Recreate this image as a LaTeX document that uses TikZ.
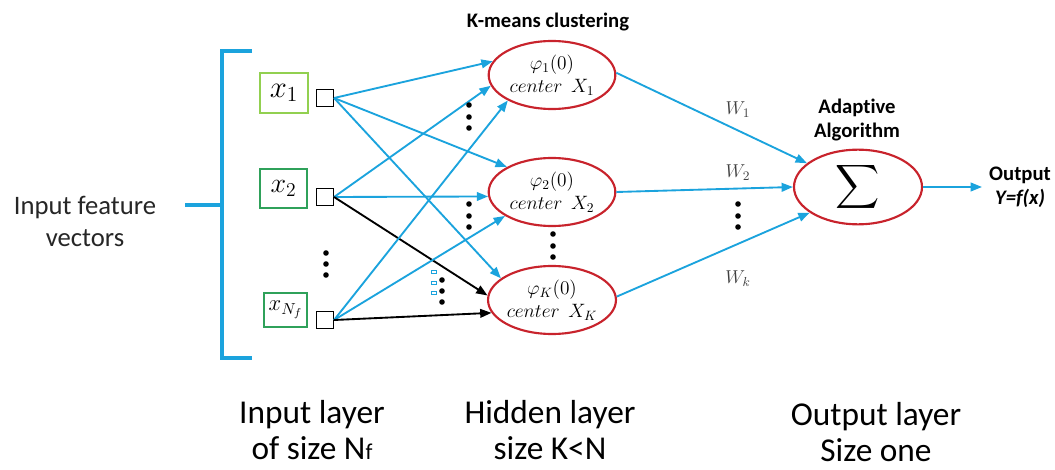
\RequirePackage{fix-cm}
\documentclass[tikz,border=0pt]{standalone}
\usepackage{graphicx}
\usepackage{fontspec}
\setmainfont{Carlito}[Ligatures=NoCommon]
\usetikzlibrary{arrows.meta,shapes.geometric}
\definecolor{lblue}{HTML}{1BA3DD}
\definecolor{ered}{HTML}{C8232C}
\definecolor{lgreen}{HTML}{92D050}
\definecolor{dgreen}{HTML}{2FA15A}
\definecolor{wgray}{HTML}{404040}
\begin{document}
\begin{tikzpicture}[x=0.75pt,y=-0.75pt,
  bluearrow/.style={lblue, line width=1.4pt, -{Triangle[length=8.5pt,width=6.5pt]}},
  blackarrow/.style={black, line width=1.4pt, -{Triangle[length=8.5pt,width=6.5pt]}},
  hid/.style={ellipse, draw=ered, line width=1.6pt, minimum width=95pt, minimum height=51pt, inner sep=0pt, align=center, font=\fontsize{14.5}{17}\selectfont},
  inbox/.style={draw, line width=1.4pt, inner sep=0pt},
  sq/.style={draw=black, line width=1.1pt, minimum size=12.5pt, inner sep=0pt},
  dot/.style={circle, fill=black, inner sep=0pt, minimum size=4.2pt},
  tinybox/.style={draw=lblue, line width=0.8pt, minimum width=3.5pt, minimum height=2.5pt, inner sep=0pt},
  bigtxt/.style={align=center, font=\fontsize{25}{27.5}\selectfont},
  boldtxt/.style={align=center, inner sep=0pt, font=\fontsize{15.5}{18.5}\selectfont\bfseries},
  wlab/.style={text=wgray, font=\fontsize{14}{14}\selectfont}
]
\path[use as bounding box] (0,0) rectangle (1055,470);

% bracket
\coordinate (bt) at (252,51);
\coordinate (btc) at (222,51);
\coordinate (bbc) at (222,358);
\coordinate (bb) at (252,358);
\coordinate (bm) at (222,205);
\coordinate (bl) at (185,205);
\draw[lblue, line width=3pt] (bt) -- (btc) -- (bbc) -- (bb);
\draw[lblue, line width=3pt] (bm) -- (bl);
\node[align=center, text=black!85, font=\fontsize{20}{24}\selectfont] (ifv) at (85,221) {Input feature\\vectors};

% input boxes
\node[inbox, draw=lgreen, minimum width=36pt, minimum height=30pt] (b1) at (284,93) {\fontsize{23}{23}\selectfont$x_1$};
\node[inbox, draw=dgreen, minimum width=35pt, minimum height=29pt] (b2) at (283.5,188.5) {\fontsize{21}{21}\selectfont$x_2$};
\node[inbox, draw=dgreen, minimum width=32pt, minimum height=25.5pt] (bn) at (285.5,310) {\fontsize{17}{17}\selectfont$x_{N_f}$};

% input squares
\node[sq] (s1) at (325,98) {};
\node[sq] (s2) at (325,197) {};
\node[sq] (sn) at (325,320) {};

% hidden ellipses
\node[hid] (e1) at (552,75) {$\varphi_1(0)$\\$center\ \ X_1$};
\node[hid] (e2) at (552,192) {$\varphi_2(0)$\\$center\ \ X_2$};
\node[hid] (e3) at (552,300) {$\varphi_K(0)$\\$center\ \ X_K$};

% output ellipse
\node[ellipse, draw=ered, line width=1.6pt, minimum width=96pt, minimum height=56pt, inner sep=0pt] (sg) at (858,187) {\scalebox{2.3}{$\displaystyle\sum$}};

% titles
\node[boldtxt] (km) at (548,22) {K-means clustering};
\node[boldtxt] (aa) at (857,120) {Adaptive\\Algorithm};
\node[boldtxt] (out) at (1020,175) {Output};
\node[font=\fontsize{15.5}{19}\selectfont\bfseries\itshape, inner sep=0pt] (yfx) at (1020,198) {Y=f(x)};
\coordinate (oend) at (982,187);

% input -> hidden connectors
\draw[bluearrow] (s1.east) -- (e1.167);
\draw[bluearrow] (s1.east) -- (e2.151);
\draw[bluearrow] (s1.east) -- (e3.157);
\draw[bluearrow] (s2.east) -- (e1.190);
\draw[bluearrow] (s2.east) -- (e2.184);
\draw[blackarrow] (s2.east) -- (e3.176);
\draw[bluearrow] (sn.east) -- (e1.210);
\draw[bluearrow] (sn.east) -- (e2.207);
\draw[blackarrow] (sn.east) -- (e3.192);

% hidden -> output
\draw[bluearrow] (e1.2) -- (sg.155);
\draw[bluearrow] (e2.east) -- (sg.west);
\draw[bluearrow] (e3.3) -- (sg.208);
\draw[bluearrow] (sg.east) -- (oend);

% weights
\node[wlab] (w1) at (738,110) {$W_1$};
\node[wlab] (w2) at (738,173) {$W_2$};
\node[wlab] (wk) at (738,279) {$W_k$};

% dots
\foreach \i/\y in {1/253,2/264,3/275} \node[dot] (di\i) at (326,\y) {};
\foreach \i/\y in {1/105,2/117,3/128} \node[dot] (dha\i) at (469,\y) {};
\foreach \i/\y in {1/204,2/216,3/227} \node[dot] (dhb\i) at (469,\y) {};
\foreach \i/\y in {1/280,2/291,3/302} \node[dot] (dhc\i) at (442,\y) {};
\foreach \i/\y in {1/234,2/246,3/257} \node[dot] (dhd\i) at (553,\y) {};
\foreach \i/\y in {1/204,2/216,3/227} \node[dot] (dw\i) at (738,\y) {};
\foreach \i/\y in {1/272,2/283,3/293} \node[tinybox] (tb\i) at (434,\y) {};

% bottom labels
\node[bigtxt] (l1) at (312,430) {Input layer\\of size N{\fontsize{17}{17}\selectfont f}};
\node[bigtxt] (l2) at (550,430) {Hidden layer\\size K<N};
\node[bigtxt] (l3) at (876,432) {Output layer\\Size one};
\end{tikzpicture}
\end{document}
